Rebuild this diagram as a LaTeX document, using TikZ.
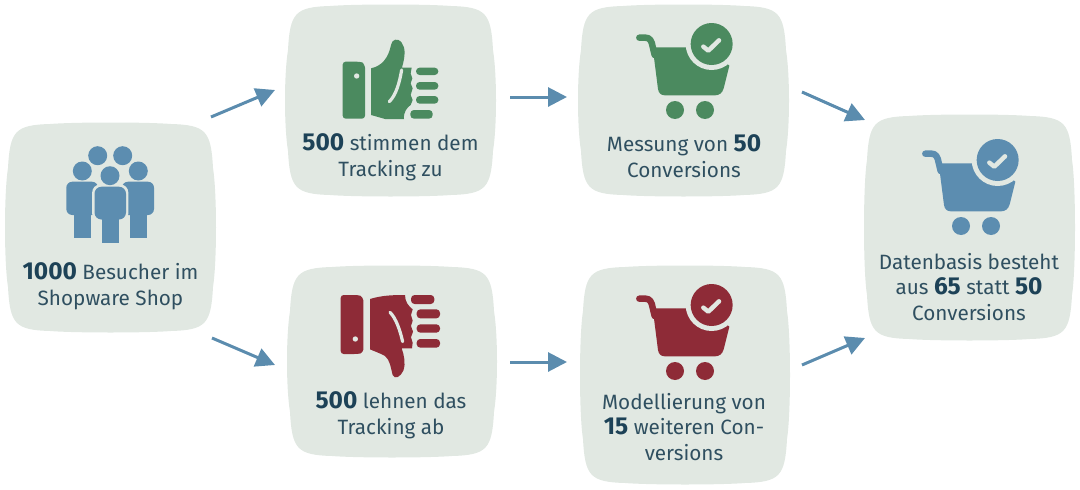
\documentclass[tikz,border=0pt]{standalone}
\usepackage{fontspec}
\setmainfont{Fira Sans}
\usetikzlibrary{arrows.meta}
\definecolor{boxfill}{HTML}{E1E8E2}
\definecolor{bluei}{HTML}{5C8DB0}
\definecolor{greeni}{HTML}{4B8A5F}
\definecolor{redi}{HTML}{8E2B37}
\definecolor{txt}{HTML}{2F4F60}
\definecolor{txtb}{HTML}{1D4257}
\definecolor{arrowc}{HTML}{5B8CAE}
\newcommand{\bnum}[1]{{\bfseries\color{txtb}\fontsize{24.5}{25}\selectfont #1}}
\newcommand{\sqbox}[5]{%
 \fill[boxfill] (#2+45,#3+1) .. controls (#2+70,#3-1) and (#4-70,#3-1) .. (#4-45,#3+1)
  .. controls (#4-10,#3+2) and (#4-5,#3+8) .. (#4-3,#3+45)
  .. controls (#4+1,#3+70) and (#4+1,#5-70) .. (#4-3,#5-45)
  .. controls (#4-5,#5-8) and (#4-10,#5-2) .. (#4-45,#5-1)
  .. controls (#4-70,#5+1) and (#2+70,#5+1) .. (#2+45,#5-1)
  .. controls (#2+10,#5-2) and (#2+5,#5-8) .. (#2+3,#5-45)
  .. controls (#2-1,#5-70) and (#2-1,#3+70) .. (#2+3,#3+45)
  .. controls (#2+5,#3+8) and (#2+10,#3+2) .. (#2+45,#3+1) -- cycle;
 \coordinate (#1) at ({(#2+#4)/2},{(#3+#5)/2});}
\newcommand{\cart}[3]{%
 \begin{scope}[shift={(#1,#2)},scale=1/3]
  \draw[#3,line width=6.5pt,line cap=round,line join=round] (58,68) -- (76,68) .. controls (90,68) and (95,78) .. (98,95) -- (104,120);
  \fill[#3] (98,97) -- (260,97) -- (328,152) -- (311,220) .. controls (307,234) and (298,241) .. (285,241) -- (135,241) .. controls (122,241) and (116,234) .. (114,222) -- cycle;
  \fill[boxfill] (275,87) circle[radius=78];
  \fill[#3] (275,87) circle[radius=63];
  \draw[boxfill,line width=4.5pt,line cap=round,line join=round] (250,95) -- (265,107) -- (297,76);
  \fill[#3] (165,285) circle[radius=27];
  \fill[#3] (255,285) circle[radius=27];
 \end{scope}}
\tikzset{
 x=1pt,y=-1pt,
 flow/.style={draw=arrowc,line width=3pt,-{Triangle[length=19pt,width=19pt]},shorten >=0pt},
 label/.style={align=center,inner sep=0pt,text=txt,font=\fontsize{20.7}{25.7}\selectfont},
 bar/.style={rounded corners=3.6pt}
}
\begin{document}
\begin{tikzpicture}
\useasboundingbox (0,0) rectangle (1080,490);
\sqbox{b1}{5}{123}{216}{332}
\sqbox{b2}{285}{5}{496}{196}
\sqbox{b3}{578}{5}{789}{196}
\sqbox{b4}{287}{266}{497}{457}
\sqbox{b5}{580}{266}{790}{484}
\sqbox{b6}{864}{115}{1075}{340}
% people
\begin{scope}[bluei]
 \fill (97.7,155.7) circle[radius=9.5];
 \fill (122.7,155.7) circle[radius=9.5];
 \fill (82.3,171) circle[radius=9.5];
 \fill (138.3,171) circle[radius=9.5];
 \fill[rounded corners=6pt] (66.3,181.7) -- (98,181.7) -- (98,215) -- (66.3,215) -- cycle;
 \fill (74,210) rectangle (90.7,238);
 \fill[rounded corners=6pt] (122,181.7) -- (154,181.7) -- (154,215) -- (122,215) -- cycle;
 \fill (130.3,210) rectangle (146.7,238);
 \fill[boxfill,rounded corners=8pt] (92.2,184.4) rectangle (128.3,221.8);
 \fill[boxfill] (100,215) rectangle (121,243);
 \fill[boxfill] (110,175.7) circle[radius=11.5];
 \fill[rounded corners=7pt] (94.5,186.7) rectangle (126,219.5);
 \fill (102.3,215) rectangle (118.7,243);
 \fill (110,175.7) circle[radius=9.5];
\end{scope}
% thumb up
\begin{scope}[shift={(320,20)},scale=1/3,greeni]
 \fill[rounded corners=3pt] (68,125) -- (118,125) .. controls (130,128) and (135,140) .. (135,152) -- (135,296) -- (68,296) -- cycle;
 \fill[boxfill] (110,168) circle[radius=8];
 \fill (153,145) .. controls (185,138) and (205,115) .. (213,75) .. controls (216,58) and (232,52) .. (245,68) .. controls (258,85) and (255,110) .. (246,143)
  -- (275,143) -- (272,160) -- (277,175) -- (272,190) -- (278,205) -- (272,225) -- (278,240) -- (272,255) .. controls (262,262) and (250,275) .. (252,297) -- (195,297) -- (153,285) -- cycle;
 \draw[boxfill,line width=3.2pt,line cap=round] (245,150) .. controls (238,190) and (228,225) .. (208,245);
 \fill[bar] (288,143) rectangle (355,165);
 \fill[bar] (288,186) rectangle (355,209);
 \fill[bar] (288,228) rectangle (355,251);
 \fill[bar] (271,270) rectangle (338,296);
\end{scope}
% thumb down
\begin{scope}[shift={(320,280)},scale=1/3,redi]
 \fill[rounded corners=3pt] (62,45) -- (112,45) .. controls (125,48) and (130,58) .. (130,70) -- (130,200) .. controls (130,212) and (125,220) .. (112,222) -- (62,222) -- cycle;
 \fill[boxfill] (106,177) circle[radius=8];
 \fill (150,57) .. controls (185,46) and (220,45) .. (255,45) .. controls (255,65) and (265,78) .. (278,88)
  -- (273,105) -- (278,122) -- (273,138) -- (279,155) -- (273,172) -- (278,188) -- (276,205) -- (245,205) .. controls (252,225) and (258,250) .. (250,272) .. controls (242,290) and (225,300) .. (218,285) .. controls (212,262) and (210,240) .. (195,228) .. controls (182,220) and (165,215) .. (150,208) -- cycle;
 \draw[boxfill,line width=3.2pt,line cap=round] (210,97) .. controls (228,115) and (240,150) .. (248,185);
 \fill[bar] (273,45) rectangle (343,72);
 \fill[bar] (290,88) rectangle (360,115);
 \fill[bar] (290,133) rectangle (360,158);
 \fill[bar] (290,177) rectangle (360,203);
\end{scope}
\cart{620}{15}{greeni}
\cart{620}{276}{redi}
\cart{906}{131}{bluei}
% labels
\node[label] (t1) at (110.5,286) {\bnum{1000} Besucher im\\Shopware Shop};
\node[label] (t2) at (390.5,157.5) {\bnum{500} stimmen dem\\Tracking zu};
\node[label] (t3) at (684,156.5) {Messung von \bnum{50}\\Conversions};
\node[label] (t4) at (391,415.5) {\bnum{500} lehnen das\\Tracking ab};
\node[label] (t5) at (684,427) {Modellierung von\\\bnum{15} weiteren Con-\\versions};
\node[label] (t6) at (969,287) {Datenbasis besteht\\aus \bnum{65} statt \bnum{50}\\Conversions};
% connectors
\coordinate (a1s) at (211,117); \coordinate (a1e) at (275,90);
\coordinate (a2s) at (212,338); \coordinate (a2e) at (275,365);
\coordinate (a3s) at (510,97);  \coordinate (a3e) at (567,97);
\coordinate (a4s) at (510,362); \coordinate (a4e) at (567,362);
\coordinate (a5s) at (802,92);  \coordinate (a5e) at (865,120);
\coordinate (a6s) at (802,365); \coordinate (a6e) at (865,338);
\draw[flow] (a1s) -- (a1e);
\draw[flow] (a2s) -- (a2e);
\draw[flow] (a3s) -- (a3e);
\draw[flow] (a4s) -- (a4e);
\draw[flow] (a5s) -- (a5e);
\draw[flow] (a6s) -- (a6e);
\end{tikzpicture}
\end{document}
